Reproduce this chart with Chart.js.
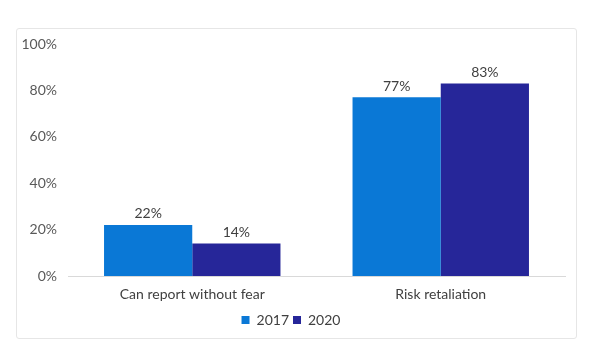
<!DOCTYPE html>
<html>
<head>
<meta charset="utf-8">
<script src="https://cdn.jsdelivr.net/npm/chart.js@4"></script>
<style>
  body { margin: 0; background: #fff; }
  .frame {
    position: absolute; left: 16px; top: 28px;
    width: 559px; height: 309px;
    border: 1px solid #e6e6e6; border-radius: 3px;
  }
  canvas { position: absolute; left: 0; top: 0; display: block; }
</style>
</head>
<body>
<div class="frame"></div>
<canvas id="chart" width="591" height="359"></canvas>
<script>
const categories = ["Can report without fear", "Risk retaliation"]
const values2017 = [22, 77]
const values2020 = [14, 83]
const yTicks = [0, 20, 40, 60, 80, 100]

const fontFamily = "Lato, 'DejaVu Sans', sans-serif"

// labels above each bar
const barLabels = {
    id: "barLabels",
    afterDatasetsDraw(chart) {
        const ctx = chart.ctx
        ctx.save()
        ctx.font = "14px " + fontFamily
        ctx.fillStyle = "#404040"
        ctx.textAlign = "center"
        ctx.textBaseline = "bottom"
        chart.data.datasets.forEach((ds, i) => {
            chart.getDatasetMeta(i).data.forEach((bar, j) => {
                ctx.fillText(ds.data[j] + "%", bar.x, bar.y - 4)
            })
        })
        ctx.restore()
    }
}

const chart = new Chart(document.getElementById("chart"), {
    type: "bar",
    data: {
        labels: categories,
        datasets: [
            { label: "2017", data: values2017, backgroundColor: "#0a78d6" },
            { label: "2020", data: values2020, backgroundColor: "#262699" }
        ]
    },
    options: {
        responsive: false,
        animation: false,
        categoryPercentage: 0.71,
        barPercentage: 1,
        layout: { padding: { top: 44, right: 26, bottom: 22, left: 17 } },
        plugins: {
            tooltip: { enabled: false },
            legend: {
                position: "bottom",
                labels: {
                    boxWidth: 8, boxHeight: 8, padding: 4,
                    color: "#404040",
                    font: { family: fontFamily, size: 14 }
                }
            }
        },
        scales: {
            x: {
                afterFit(axis) { axis.height = 33 },
                grid: { display: false, drawTicks: false },
                border: { display: true, color: "#d9d9d9" },
                ticks: { color: "#404040", padding: 10, font: { family: fontFamily, size: 14 } }
            },
            y: {
                min: 0, max: 100,
                afterBuildTicks(axis) { axis.ticks = yTicks.map(v => ({ value: v })) },
                afterFit(axis) { axis.width = 51 },
                grid: { display: false, drawTicks: false },
                border: { display: false },
                ticks: {
                    color: "#595959", padding: 11,
                    font: { family: fontFamily, size: 14 },
                    callback: v => v + "%"
                }
            }
        }
    },
    plugins: [barLabels]
})
</script>
</body>
</html>
